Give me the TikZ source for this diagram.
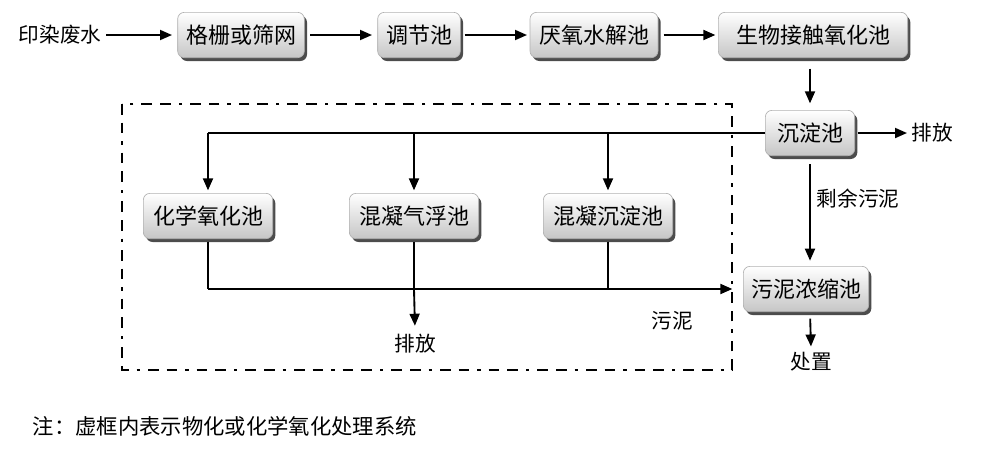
\documentclass[tikz,border=0pt]{standalone}
\usepackage{fontspec}
\setmainfont{Noto Sans CJK SC}
\usetikzlibrary{arrows.meta,shadows}
\begin{document}
\begin{tikzpicture}[x=0.75pt,y=-0.75pt,
  box/.style={draw=gray!60, line width=0.5pt, rounded corners=5pt, top color=white, bottom color=gray!45,
    minimum height=34pt, inner xsep=5pt, font=\fontsize{16.5}{16.5}\selectfont,
    drop shadow={shadow xshift=2pt, shadow yshift=-2.5pt, fill=black, opacity=0.7}},
  flow/.style={line width=1.4pt, -{Triangle[length=9pt,width=7.5pt]}},
  plain/.style={line width=1.4pt},
  lbl/.style={font=\fontsize{15.5}{15.5}\selectfont},
  frame/.style={line width=1.8pt, dash pattern=on 8pt off 6pt on 8pt off 6pt on 2.5pt off 6pt}]
\useasboundingbox (0,0) rectangle (1000,454);

% top row
\node[lbl] (src) at (60,35) {印染废水};
\node[box, minimum width=95pt] (n1) at (241,35) {格栅或筛网};
\node[box, minimum width=62pt] (n2) at (419,35) {调节池};
\node[box, minimum width=96pt] (n3) at (594,35) {厌氧水解池};
\node[box, minimum width=142pt] (n4) at (813,35) {生物接触氧化池};
\draw[flow, shorten >=4pt] (src.east) -- (n1.west);
\draw[flow, shorten <=4pt, shorten >=4pt] (n1.east) -- (n2.west);
\draw[flow, shorten <=3pt, shorten >=2pt] (n2.east) -- (n3.west);
\draw[flow, shorten <=4pt, shorten >=2pt] (n3.east) -- (n4.west);

% settling tank
\node[box, minimum width=67pt] (cd) at (810,133) {沉淀池};
\node[lbl, anchor=west] (out1) at (907,133) {排放};
\draw[flow, shorten <=8pt, shorten >=5pt] (n4.south -| cd) -- (cd.north);
\draw[flow, shorten <=2pt] (cd.east) -- (out1.west);

% chemical treatment units
\node[box, minimum width=97pt] (c1) at (208,216) {化学氧化池};
\node[box, minimum width=97pt] (c2) at (414,216) {混凝气浮池};
\node[box, minimum width=97pt] (c3) at (608,216) {混凝沉淀池};
\coordinate (b1) at (c1.north |- cd.west);
\coordinate (b2) at (c2.north |- cd.west);
\coordinate (b3) at (c3.north |- cd.west);
\draw[plain] (cd.west) -- (b1);
\draw[flow, shorten >=2pt] (b1) -- (c1.north);
\draw[flow, shorten >=2pt] (b2) -- (c2.north);
\draw[flow, shorten >=2pt] (b3) -- (c3.north);

% sludge thickener
\node[box, minimum width=94pt] (sl) at (806,289) {污泥浓缩池};
\node[lbl] (sr) at (858,199) {剩余污泥};
\draw[flow, shorten <=6pt, shorten >=4pt] (cd.south) -- (cd.south |- sl.north);

\coordinate (d1) at (c1.south |- sl.west);
\coordinate (d2) at (c2.south |- sl.west);
\coordinate (d3) at (c3.south |- sl.west);
\draw[plain, shorten <=2pt] (c1.south) -- (d1);
\draw[plain, shorten <=2pt] (c2.south) -- (d2);
\draw[plain, shorten <=2pt] (c3.south) -- (d3);
\draw[flow, shorten >=8pt] (d1) -- (sl.west);
\node[lbl] (out2) at (415,344) {排放};
\draw[flow, shorten >=3pt] (d2) -- (out2.north);
\node[lbl] (wn) at (672,321) {污泥};

\node[lbl] (disp) at (811,362) {处置};
\draw[flow, shorten <=5pt, shorten >=1pt] (sl.south -| cd.south) -- (disp.north);

% dashed frame
\draw[frame] (122,104) rectangle (732,370);

% note
\node[lbl, anchor=west, font=\fontsize{16}{16}\selectfont] (note) at (28,426) {注：虚框内表示物化或化学氧化处理系统};
\end{tikzpicture}
\end{document}
